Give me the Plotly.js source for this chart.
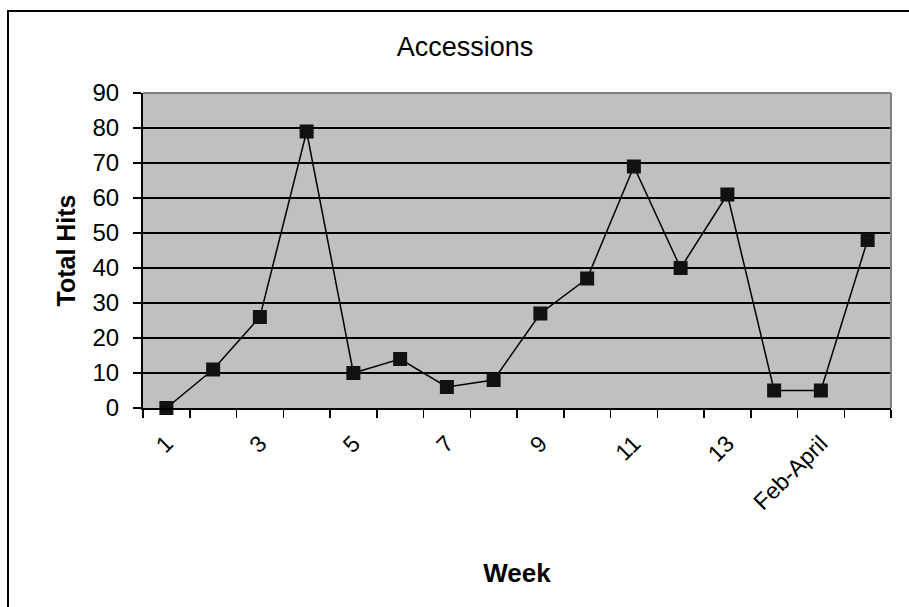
<!DOCTYPE html>
<html>
<head>
<meta charset="utf-8">
<script src="https://cdn.plot.ly/plotly-3.0.1.min.js"></script>
<style>
  html, body { margin: 0; padding: 0; background: #fff; }
  #wrap { position: relative; width: 909px; height: 607px; overflow: hidden; }
  #chart { position: absolute; left: 0; top: 0; width: 909px; height: 607px; }
  #frame { position: absolute; left: 7px; top: 10px; width: 930px; height: 640px;
           border-left: 2px solid #000; border-top: 2px solid #000; pointer-events: none; }
</style>
</head>
<body>
<div id="wrap">
  <div id="chart"></div>
  <div id="frame"></div>
</div>
<script>
// Data
const weeks = ['1','2','3','4','5','6','7','8','9','10','11','12','13','14','Feb-April','16'];
const totalHits = [0, 11, 26, 79, 10, 14, 6, 8, 27, 37, 69, 40, 61, 5, 5, 48];
const tickLabels = ['1','','3','','5','','7','','9','','11','','13','','Feb-April',''];
const yTicks = [0,10,20,30,40,50,60,70,80,90];

const FONT = 'Arial, "Liberation Sans", sans-serif';

const trace = {
  x: weeks,
  y: totalHits,
  type: 'scatter',
  mode: 'lines+markers',
  line: { color: '#000000', width: 1.5 },
  marker: { symbol: 'square', size: 14, color: '#111111', line: { width: 0 } },
  cliponaxis: false,
  hoverinfo: 'x+y'
};

const layout = {
  width: 909,
  height: 607,
  paper_bgcolor: 'rgba(0,0,0,0)',
  plot_bgcolor: '#c0c0c0',
  margin: { l: 143, r: 18, t: 93, b: 199 },
  showlegend: false,
  font: { family: FONT, color: '#000' },
  title: {
    text: 'Accessions',
    font: { family: FONT, size: 27, color: '#000' },
    x: 0.5116, xanchor: 'center', xref: 'container',
    y: 0.9226, yref: 'container', yanchor: 'middle'
  },
  xaxis: {
    type: 'category',
    range: [-0.5, weeks.length - 0.5],
    tickmode: 'array',
    tickvals: weeks,
    ticktext: tickLabels,
    tickson: 'boundaries',
    ticks: 'outside',
    ticklen: 8,
    tickwidth: 1.5,
    tickcolor: '#000',
    tickangle: -45,
    ticklabelstandoff: 11,
    tickfont: { family: FONT, size: 23, color: '#000' },
    showline: true,
    linecolor: '#000',
    linewidth: 2,
    showgrid: false,
    zeroline: false,
    automargin: false,
    title: { text: '<b>Week</b>', font: { family: FONT, size: 26, color: '#000' }, standoff: 50 }
  },
  yaxis: {
    range: [0, 90],
    tickmode: 'array',
    tickvals: yTicks,
    ticktext: yTicks.map(String),
    ticks: 'outside',
    ticklen: 8,
    tickwidth: 1.5,
    tickcolor: '#000',
    ticklabelstandoff: 9,
    tickfont: { family: FONT, size: 24, color: '#000' },
    showline: true,
    linecolor: '#000',
    linewidth: 2,
    showgrid: true,
    gridcolor: '#000',
    gridwidth: 2,
    zeroline: false,
    automargin: false,
    title: { text: '<b>Total Hits</b>', font: { family: FONT, size: 25, color: '#000' }, standoff: 10 }
  },
  shapes: [
    { type: 'line', xref: 'paper', yref: 'paper', x0: 0, x1: 1, y0: 1, y1: 1,
      line: { color: '#808080', width: 2 }, layer: 'above' },
    { type: 'line', xref: 'paper', yref: 'paper', x0: 1, x1: 1, y0: 0, y1: 1,
      line: { color: '#808080', width: 2 }, layer: 'above' }
  ]
};

Plotly.newPlot('chart', [trace], layout, { displayModeBar: false, staticPlot: true });
</script>
</body>
</html>
